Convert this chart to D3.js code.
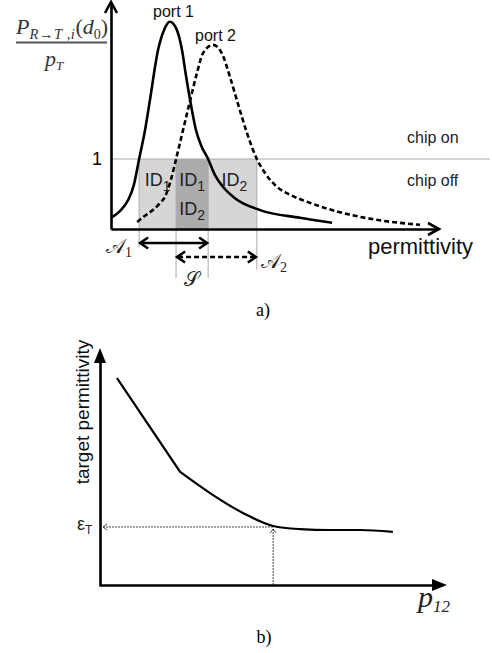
<!DOCTYPE html>
<html><head><meta charset="utf-8">
<script src="https://cdn.jsdelivr.net/npm/d3@7"></script>
<style>
html,body{margin:0;padding:0;background:#fff;}
svg{display:block;}
.sans{font-family:"Liberation Sans",Arial,sans-serif;}
.serif{font-family:"Liberation Serif","Times New Roman",serif;}
</style></head>
<body>
<script>
// ---------- Panel a) data ----------
const port1X = [0,2.8,5.2,7.0,8.6,10.4,11.9,14.4,16.2,18.0,19.9,21.7,22.9,24.2,26.0,27.5,29.7,31.8,34.3,37.9,45.6,57.8,67.6];
const port1Y = [0.16,0.26,0.41,0.63,1.0,1.41,1.84,2.56,2.84,2.96,2.87,2.56,2.2,1.84,1.41,1.2,1.0,0.77,0.6,0.44,0.27,0.16,0.09];
const port2X = [8.0,10.4,12.8,15.0,16.5,18.3,19.9,23.5,26.3,28.1,31.2,33.9,36.4,38.5,41.6,44.6,47.1,50.8,54.7,59.9,70.0,80.1,94.5];
const port2Y = [0.1,0.19,0.27,0.37,0.46,0.7,1.0,1.7,2.23,2.51,2.63,2.51,2.17,1.84,1.37,1.0,0.8,0.6,0.49,0.39,0.24,0.14,0.06];
const thresholdTicks = [1];
const thresholdLabels = ["1"];
const regionBounds = [8.6, 19.9, 29.7, 44.6]; // A1, S start, S end, A2
const regionLabels = ["chip on", "chip off"];

// ---------- Panel b) data ----------
const p12 = [4.9,23.1,31.7,41.2,49.9,57.6,66.3,74.9,84.4];
const targetPerm = [87.3,47.7,38.8,30.4,24.9,23.6,23.2,23.2,22.4];
const targetIndex = 4;

const W = 492, H = 653;
const svg = d3.select("body").append("svg").attr("width", W).attr("height", H);

function chevron(g, tip, dir, len, half, sw, color) {
  const [tx, ty] = tip, [dx, dy] = dir;
  const px = -dy, py = dx;
  const p = d3.path();
  p.moveTo(tx - dx*len + px*half, ty - dy*len + py*half);
  p.lineTo(tx, ty);
  p.lineTo(tx - dx*len - px*half, ty - dy*len - py*half);
  g.append("path").attr("d", p.toString()).attr("fill","none")
    .attr("stroke", color||"#000").attr("stroke-width", sw).attr("stroke-linejoin","miter");
}
function triangle(g, tip, dir, len, half, color) {
  const [tx, ty] = tip, [dx, dy] = dir;
  const px = -dy, py = dx;
  const p = d3.path();
  p.moveTo(tx, ty);
  p.lineTo(tx - dx*len + px*half, ty - dy*len + py*half);
  p.lineTo(tx - dx*len - px*half, ty - dy*len - py*half);
  p.closePath();
  g.append("path").attr("d", p.toString()).attr("fill", color||"#000");
}

// ================= Panel a =================
const ga = svg.append("g");
const xa = d3.scaleLinear().domain([0,100]).range([111,438]);
const ya = d3.scaleLinear().domain([0,1]).range([229,159]);

const [A1, S0, S1, A2] = regionBounds;
ga.append("rect").attr("x", xa(A1)).attr("y", ya(1)).attr("width", xa(A2)-xa(A1)).attr("height", ya(0)-ya(1)).attr("fill","#d6d6d6");
ga.append("rect").attr("x", xa(S0)).attr("y", ya(1)).attr("width", xa(S1)-xa(S0)).attr("height", ya(0)-ya(1)).attr("fill","#ababab");

thresholdTicks.forEach((t,i) => {
  ga.append("line").attr("x1", xa(0)).attr("x2", 490).attr("y1", ya(t)).attr("y2", ya(t))
    .attr("stroke","#aaa").attr("stroke-width",1);
  ga.append("text").attr("class","sans").attr("x", 102).attr("y", ya(t)+6).attr("text-anchor","end")
    .attr("font-size",18).text(thresholdLabels[i]);
});

const vEnds = [-0.26, -0.7, -0.7, -0.58];
regionBounds.forEach((b,i) => {
  ga.append("line").attr("x1", xa(b)).attr("x2", xa(b)).attr("y1", ya(1)).attr("y2", ya(vEnds[i]))
    .attr("stroke","#aaa").attr("stroke-width",1);
});

function idLabel(x, y, sub) {
  const t = ga.append("text").attr("class","sans").attr("x", x).attr("y", y).attr("text-anchor","middle").attr("font-size",18).attr("fill","#222");
  t.append("tspan").text("ID");
  t.append("tspan").attr("font-size",14).attr("dy",5).text(sub);
}
idLabel((xa(A1)+xa(S0))/2, ya(0.62), "1");
idLabel((xa(S0)+xa(S1))/2, ya(0.62), "1");
idLabel((xa(S0)+xa(S1))/2, ya(0.2), "2");
idLabel((xa(S1)+xa(A2))/2+2, ya(0.62), "2");

const lineA = d3.line().x(d=>xa(d[0])).y(d=>ya(d[1])).curve(d3.curveMonotoneX);
ga.append("path").attr("d", lineA(d3.zip(port1X, port1Y))).attr("fill","none").attr("stroke","#000").attr("stroke-width",2.6);
ga.append("path").attr("d", lineA(d3.zip(port2X, port2Y))).attr("fill","none").attr("stroke","#000").attr("stroke-width",2.6).attr("stroke-dasharray","5,3");

const axA = d3.axisBottom(xa).tickValues([]).tickSizeOuter(0);
ga.append("g").attr("transform",`translate(0,${ya(0)})`).call(axA)
  .select(".domain").attr("stroke","#000").attr("stroke-width",2.6);
const yaFull = d3.scaleLinear().domain([0,3.25]).range([229,2]);
ga.append("g").attr("transform",`translate(${xa(0)},0)`).call(d3.axisLeft(yaFull).tickValues([]).tickSizeOuter(0))
  .select(".domain").attr("stroke","#000").attr("stroke-width",2.6);
chevron(ga, [xa(100)+1, ya(0)], [1,0], 11, 6, 2.6);
chevron(ga, [xa(0), 2], [0,-1], 11, 6, 2.6);

function dblArrow(x1, x2, y, dashed) {
  ga.append("line").attr("x1", x1+2).attr("x2", x2-2).attr("y1", y).attr("y2", y)
    .attr("stroke","#000").attr("stroke-width",2.6).attr("stroke-dasharray", dashed ? "5,3" : null);
  chevron(ga, [x1+1, y], [-1,0], 8, 5.5, 2.6);
  chevron(ga, [x2-1, y], [1,0], 8, 5.5, 2.6);
}
dblArrow(xa(A1), xa(S1), ya(-0.2), false);
dblArrow(xa(S0), xa(A2), ya(-0.4), true);

function scriptLabel(x, y, letter, sub) {
  const t = ga.append("text").attr("class","serif").attr("x", x).attr("y", y).attr("font-size",20).attr("fill","#222");
  t.append("tspan").text(letter);
  if (sub) t.append("tspan").attr("font-size",14).attr("dy",4).text(sub);
}
scriptLabel(106, 253, "𝒜", "1");
scriptLabel(261, 268, "𝒜", "2");
scriptLabel(184, 286, "𝒮", null);

ga.append("text").attr("class","sans").attr("x",407).attr("y",ya(1)-16).attr("font-size",16).attr("fill","#222").text(regionLabels[0]);
ga.append("text").attr("class","sans").attr("x",407).attr("y",ya(1)+27).attr("font-size",16).attr("fill","#222").text(regionLabels[1]);

ga.append("text").attr("class","sans").attr("x",153).attr("y",17).attr("font-size",16).attr("fill","#111").text("port 1");
ga.append("text").attr("class","sans").attr("x",195).attr("y",41).attr("font-size",16).attr("fill","#111").text("port 2");

ga.append("text").attr("class","sans").attr("x",368).attr("y",254).attr("font-size",22).attr("fill","#111").text("permittivity");

// y label fraction
const num = ga.append("text").attr("class","serif").attr("x",16).attr("y",34).attr("font-style","italic").attr("font-size",22).attr("fill","#333");
num.append("tspan").text("P");
num.append("tspan").attr("font-size",14.5).attr("dy",5).attr("letter-spacing",0.6).text("R→T ,i");
num.append("tspan").attr("dy",-5).attr("font-style","normal").text("(");
num.append("tspan").text("d");
num.append("tspan").attr("font-size",14).attr("dy",5).attr("font-style","normal").text("0");
num.append("tspan").attr("dy",-5).attr("font-style","normal").text(")");
ga.append("line").attr("x1",16).attr("x2",107).attr("y1",42.5).attr("y2",42.5).attr("stroke","#555").attr("stroke-width",1.8);
const den = ga.append("text").attr("class","serif").attr("x",45).attr("y",66).attr("font-style","italic").attr("font-size",22).attr("fill","#333");
den.append("tspan").text("p");
den.append("tspan").attr("font-size",13).attr("dy",4).text("T");

ga.append("text").attr("class","serif").attr("x",263).attr("y",316).attr("text-anchor","middle").attr("font-size",18).text("a)");

// ================= Panel b =================
const gb = svg.append("g");
const xb = d3.scaleLinear().domain([0,100]).range([100,447]);
const yb = d3.scaleLinear().domain([0,100]).range([585,348]);

const tx = xb(p12[targetIndex]), ty = yb(targetPerm[targetIndex]);
gb.append("line").attr("x1", xb(0)+3).attr("x2", tx).attr("y1", ty+1).attr("y2", ty+1)
  .attr("stroke","#444").attr("stroke-width",1).attr("stroke-dasharray","2,1");
gb.append("line").attr("x1", tx).attr("x2", tx).attr("y1", yb(0)).attr("y2", ty+3)
  .attr("stroke","#444").attr("stroke-width",1).attr("stroke-dasharray","2,1");
chevron(gb, [xb(0)+3, ty+1], [-1,0], 4, 3, 1, "#444");
chevron(gb, [tx, ty+3], [0,-1], 4, 3, 1, "#444");

const lineB = d3.line().x(d=>xb(d[0])).y(d=>yb(d[1]));
const ptsB = d3.zip(p12, targetPerm);
const d1 = lineB.curve(d3.curveLinear)(ptsB.slice(0,2));
const d2 = lineB.curve(d3.curveMonotoneX)(ptsB.slice(1));
gb.append("path").attr("d", d1 + d2.replace(/^M/, "L")).attr("fill","none").attr("stroke","#000").attr("stroke-width",2.2);

gb.append("g").attr("transform",`translate(0,${yb(0)})`).call(d3.axisBottom(d3.scaleLinear().domain([0,1]).range([100,436])).tickValues([]).tickSizeOuter(0))
  .select(".domain").attr("stroke","#000").attr("stroke-width",2.6);
gb.append("g").attr("transform",`translate(${xb(0)},0)`).call(d3.axisLeft(d3.scaleLinear().domain([0,1]).range([586,358])).tickValues([]).tickSizeOuter(0))
  .select(".domain").attr("stroke","#000").attr("stroke-width",2.6);
triangle(gb, [xb(100), yb(0)], [1,0], 15, 6);
triangle(gb, [xb(0), yb(100)], [0,-1], 15, 6);

gb.append("text").attr("class","sans").attr("transform",`translate(89,412) rotate(-90)`).attr("text-anchor","middle")
  .attr("font-size",19).attr("fill","#111").text("target permittivity");
const eps = gb.append("text").attr("class","sans").attr("x",77).attr("y",ty+4).attr("font-size",18).attr("fill","#222");
eps.append("tspan").text("ε");
eps.append("tspan").attr("font-size",12).attr("dy",4).text("T");
const pl = gb.append("text").attr("class","serif").attr("x",418).attr("y",607).attr("font-style","italic").attr("font-size",30).attr("fill","#222");
pl.append("tspan").text("p");
pl.append("tspan").attr("font-size",17).attr("dy",5).text("12");
gb.append("text").attr("class","serif").attr("x",264).attr("y",643).attr("text-anchor","middle").attr("font-size",18).text("b)");
</script>
</body></html>
